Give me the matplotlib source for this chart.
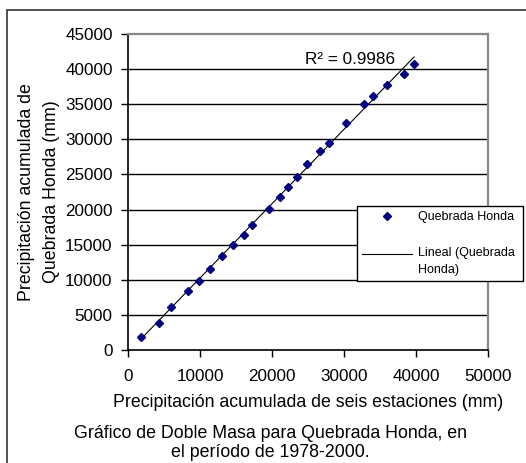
import numpy as np
import matplotlib
matplotlib.use("Agg")
import matplotlib.pyplot as plt
from matplotlib.lines import Line2D
from matplotlib.patches import Rectangle
from matplotlib.legend_handler import HandlerLine2D

plt.rcParams['font.family'] = ['Liberation Sans', 'DejaVu Sans']

# Accumulated precipitation, six stations (x) vs Quebrada Honda (y), 1978-2000
x_six = [1800, 4260, 5970, 8330, 9900, 11430, 13010, 14580, 16060, 17220,
         19580, 21070, 22270, 23430, 24860, 26620, 27870, 30230, 32730,
         33980, 36020, 38380, 39720]
y_qh = [1850, 3900, 6080, 8450, 9880, 11540, 13340, 14960, 16330, 17840,
        20080, 21790, 23260, 24680, 26440, 28390, 29520, 32370, 35030,
        36220, 37690, 39350, 40730]
x_ticks = [0, 10000, 20000, 30000, 40000, 50000]
y_ticks = [0, 5000, 10000, 15000, 20000, 25000, 30000, 35000, 40000, 45000]
r2_text = "R\u00b2 = 0.9986"
series_label = "Quebrada Honda"
trend_label = "Lineal (Quebrada\nHonda)"
x_label = "Precipitación acumulada de seis estaciones (mm)"
y_label = "Precipitación acumulada de\nQuebrada Honda (mm)"
caption = "Gráfico de Doble Masa para Quebrada Honda, en\nel período de 1978-2000."

W, H = 526, 463
fig = plt.figure(figsize=(W / 100, H / 100), dpi=100)
fig.patch.set_facecolor('white')

# outer chart frame (clipped at right/bottom)
fig.patches.append(Rectangle((7 / W, -0.2), 1.2, 1.2 - 10 / H,
                             transform=fig.transFigure, fill=False,
                             edgecolor='#333333', linewidth=1.2, zorder=0))

ax = fig.add_axes([128 / W, 1 - 350 / H, 360 / W, 316 / H])
ax.set_xlim(0, 50000)
ax.set_ylim(0, 45000)
ax.set_xticks(x_ticks)
ax.set_yticks(y_ticks)
ax.set_xticklabels([str(v) for v in x_ticks])
ax.set_yticklabels([str(v) for v in y_ticks])
ax.tick_params(axis='both', direction='out', length=5, width=1, labelsize=12.3,
               color='black')
ax.tick_params(axis='y', pad=6)
ax.tick_params(axis='x', pad=9)

for yv in y_ticks[1:-1]:
    ax.axhline(yv, color='black', linewidth=1, zorder=1)

ax.spines['left'].set_color('black')
ax.spines['bottom'].set_color('black')
ax.spines['left'].set_linewidth(1.2)
ax.spines['bottom'].set_linewidth(1.2)
ax.spines['top'].set_color('#888888')
ax.spines['right'].set_color('#888888')
ax.spines['top'].set_linewidth(1.6)
ax.spines['right'].set_linewidth(1.6)

# linear trend fit
coef = np.polyfit(x_six, y_qh, 1)
xs = np.array([min(x_six), max(x_six)])
ax.plot(xs, np.polyval(coef, xs), color='black', linewidth=0.8, zorder=2)
ax.plot(x_six, y_qh, linestyle='none', marker='D', markersize=4.2,
        color='#000080', zorder=3)

ax.text(30800, 41300, r2_text, ha='center', va='center', fontsize=12.3)

ax.set_xlabel(x_label, fontsize=12.8, labelpad=7)
ax.set_ylabel(y_label, fontsize=12.8, labelpad=4, linespacing=1.6)

fig.text(270 / W, 1 - 443 / H, caption, ha='center', va='center',
         fontsize=12.8, linespacing=1.22)


class HandlerUpLine(HandlerLine2D):
    def create_artists(self, legend, orig_handle, xdescent, ydescent,
                       width, height, fontsize, trans):
        arts = super().create_artists(legend, orig_handle, xdescent, ydescent,
                                      width, height, fontsize, trans)
        for a in arts:
            yd = np.asarray(a.get_ydata(), dtype=float)
            a.set_ydata(yd + 5.8)
        return arts


handles = [Line2D([], [], linestyle='none', marker='D', markersize=4.2,
                  color='#000080'),
           Line2D([], [], color='black', linewidth=0.8)]
leg = fig.legend(handles, [series_label, trend_label],
                 loc='upper left',
                 bbox_to_anchor=(357 / W, 1 - 206 / H, 166 / W, 0),
                 mode='expand', fontsize=9, frameon=True, fancybox=False,
                 edgecolor='black', framealpha=1, borderpad=0.4,
                 handlelength=4.0, handletextpad=0.45, labelspacing=1.9,
                 borderaxespad=0, numpoints=1,
                 handler_map={handles[1]: HandlerUpLine()})
leg.get_frame().set_linewidth(1.0)
leg.get_texts()[1].set_linespacing(1.6)

fig.savefig('out.png', dpi=100, facecolor='white')
